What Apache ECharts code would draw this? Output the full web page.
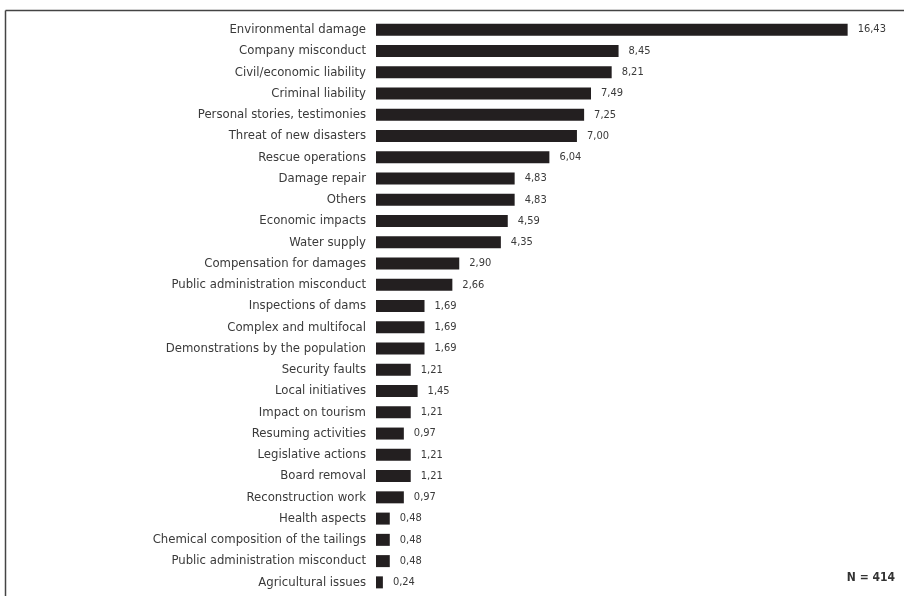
<!DOCTYPE html>
<html>
<head>
<meta charset="utf-8">
<script src="https://cdn.jsdelivr.net/npm/echarts@6/dist/echarts.min.js"></script>
<style>
  html, body { margin: 0; padding: 0; background: #fff; }
  #chart { width: 904px; height: 596px; }
</style>
</head>
<body>
<div id="chart"></div>
<script>
/** 数据 */
var categories = [
  'Environmental damage',
  'Company misconduct',
  'Civil/economic liability',
  'Criminal liability',
  'Personal stories, testimonies',
  'Threat of new disasters',
  'Rescue operations',
  'Damage repair',
  'Others',
  'Economic impacts',
  'Water supply',
  'Compensation for damages',
  'Public administration misconduct',
  'Inspections of dams',
  'Complex and multifocal',
  'Demonstrations by the population',
  'Security faults',
  'Local initiatives',
  'Impact on tourism',
  'Resuming activities',
  'Legislative actions',
  'Board removal',
  'Reconstruction work',
  'Health aspects',
  'Chemical composition of the tailings',
  'Public administration misconduct ', // 重名, 用空格区分
  'Agricultural issues'
]
var values = [16.43, 8.45, 8.21, 7.49, 7.25, 7.00, 6.04, 4.83, 4.83, 4.59, 4.35, 2.90, 2.66,
  1.69, 1.69, 1.69, 1.21, 1.45, 1.21, 0.97, 1.21, 1.21, 0.97, 0.48, 0.48, 0.48, 0.24]
var sampleNote = 'N = 414'

var FONT = '"Liberation Sans Narrow", "DejaVu Sans Condensed", sans-serif'

var myChart = echarts.init(document.getElementById('chart'))

var option = {
  animation: false,
  backgroundColor: '#fff',
  grid: { left: 376, right: 40, top: 19, bottom: 3 },
  xAxis: {
    type: 'value',
    min: 0,
    max: 17,
    show: false
  },
  yAxis: {
    type: 'category',
    inverse: true,
    data: categories,
    axisLine: { show: false },
    axisTick: { show: false },
    axisLabel: {
      margin: 10,
      color: '#3a3a3a',
      fontFamily: FONT,
      fontSize: 13,
      formatter: function (v) { return v.trim() }
    }
  },
  series: [{
    type: 'bar',
    data: values,
    barWidth: 12,
    itemStyle: { color: '#231f20' },
    label: {
      show: true,
      position: 'right',
      distance: 10,
      color: '#3a3a3a',
      fontFamily: FONT,
      fontSize: 11,
      formatter: function (p) { return p.value.toFixed(2).replace('.', ',') }
    }
  }],
  graphic: [
    // 边框
    { type: 'line', shape: { x1: 5.5, y1: 10.5, x2: 904, y2: 10.5 }, style: { stroke: '#444', lineWidth: 1.5 } },
    { type: 'line', shape: { x1: 5.5, y1: 10.5, x2: 5.5, y2: 596 }, style: { stroke: '#444', lineWidth: 1.5 } },
    {
      type: 'text', right: 9, top: 572,
      style: { text: sampleNote, font: 'bold 12px ' + FONT, fill: '#333' }
    }
  ]
}

myChart.setOption(option)
</script>
</body>
</html>
